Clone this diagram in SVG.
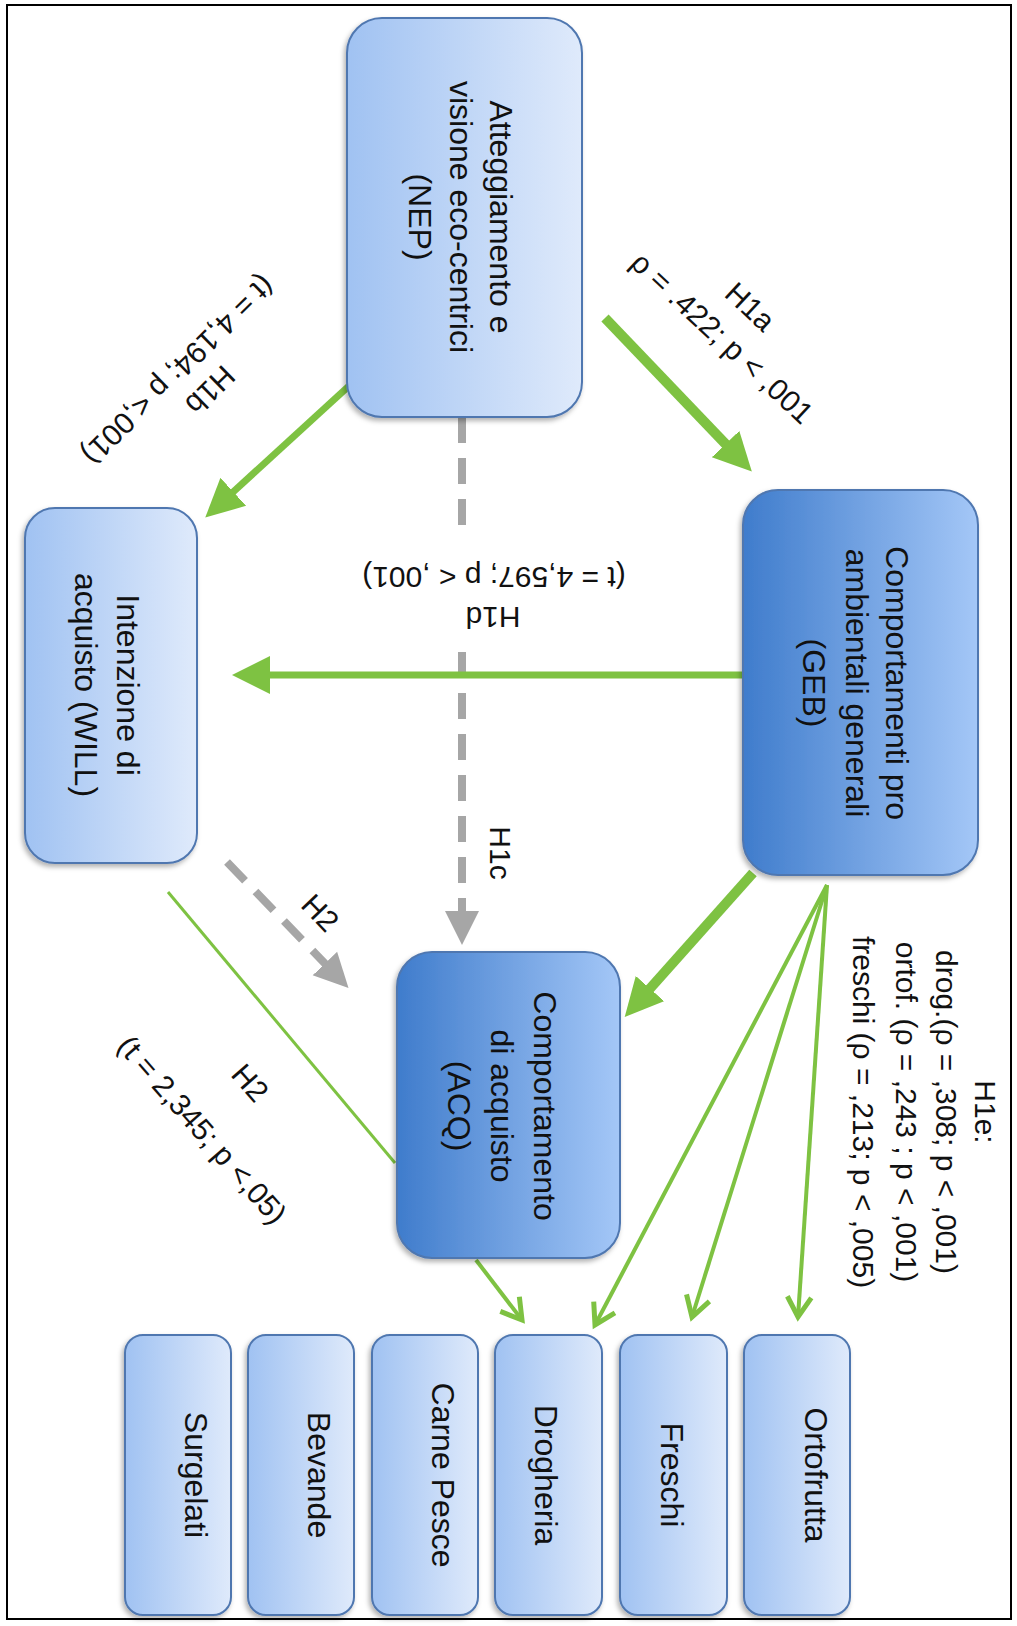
<svg xmlns="http://www.w3.org/2000/svg" width="1017" height="1626" viewBox="0 0 1017 1626">
<style>
.light{fill:url(#gLight);stroke:#4f77b0;stroke-width:2;filter:url(#sh)}
.dark{fill:url(#gDark);stroke:#4f77b0;stroke-width:2;filter:url(#sh)}
.n{font-family:"Liberation Sans",Arial,sans-serif;font-size:32px;fill:#111;text-anchor:middle}
.l{font-family:"Liberation Sans",Arial,sans-serif;font-size:30px;fill:#111;text-anchor:middle}
.gthick{stroke:#7ec242;fill:none;stroke-width:10}
.gmid{stroke:#7ec242;fill:none;stroke-width:7}
.gthin{stroke:#7ec242;fill:none;stroke-width:4}
.gline{stroke:#7ec242;fill:none;stroke-width:3}
.dash{stroke:#a6a6a6;fill:none;stroke-width:8;stroke-dasharray:26 15}
</style>
<defs>
<linearGradient id="gLight" x1="0" y1="0" x2="1" y2="0">
<stop offset="0" stop-color="#a0c2f2"/>
<stop offset="1" stop-color="#dfeafb"/>
</linearGradient>
<linearGradient id="gDark" x1="0" y1="0" x2="1" y2="0">
<stop offset="0" stop-color="#3f7ccc"/>
<stop offset="1" stop-color="#a4c7f7"/>
</linearGradient>
<filter id="sh" x="-10%" y="-10%" width="120%" height="120%">
<feDropShadow dx="-2" dy="3" stdDeviation="2.5" flood-color="#000" flood-opacity="0.3"/>
</filter>
<marker id="mBig" markerUnits="userSpaceOnUse" viewBox="0 0 40 40" markerWidth="40" markerHeight="40" refX="18" refY="20" orient="auto">
<path d="M0,1 L38,20 L0,39 z" fill="#7ec242"/>
</marker>
<marker id="mThin" markerUnits="userSpaceOnUse" viewBox="0 0 30 30" markerWidth="30" markerHeight="30" refX="24" refY="15" orient="auto">
<path d="M4,3 L24,15 L4,27" fill="none" stroke="#7ec242" stroke-width="5"/>
</marker>
<marker id="mGray" markerUnits="userSpaceOnUse" viewBox="0 0 36 36" markerWidth="36" markerHeight="36" refX="16" refY="18" orient="auto">
<path d="M0,1 L34,18 L0,35 z" fill="#a6a6a6"/>
</marker>
</defs>
<rect x="0" y="0" width="1017" height="1626" fill="#fff"/>
<rect x="7" y="5" width="1004" height="1614" fill="none" stroke="#000" stroke-width="2"/>

<g id="connectors">
<path class="dash" d="M462,417 L462,535"/>
<path class="dash" d="M462,652 L462,927" marker-end="url(#mGray)"/>
<path class="dash" d="M227,862 L336,975" marker-end="url(#mGray)"/>
<path class="gthick" d="M605,318 L738,457" marker-end="url(#mBig)"/>
<path class="gmid" d="M350,385 L220,504" marker-end="url(#mBig)"/>
<path class="gmid" d="M743,675 L252,675" marker-end="url(#mBig)"/>
<path class="gthick" d="M753,873 L638,1002" marker-end="url(#mBig)"/>
<path class="gthin" d="M827,885 L595,1325" marker-end="url(#mThin)"/>
<path class="gthin" d="M827,885 L692,1317" marker-end="url(#mThin)"/>
<path class="gthin" d="M827,885 L798,1317" marker-end="url(#mThin)"/>
<path class="gthin" d="M476,1260 L522,1320" marker-end="url(#mThin)"/>
<path class="gline" d="M168,892 L395,1163"/>
</g>

<g id="labels">
<text class="l" transform="translate(750,307) rotate(43)" y="10">H1a</text>
<text class="l" transform="translate(722,338) rotate(43)" y="10">ρ = .422; p &lt; ,001</text>
<text class="l" transform="translate(210,390) rotate(135.6)" y="10">H1b</text>
<text class="l" transform="translate(178,370) rotate(135.6)" y="10">(t = 4,194; p &lt;,001)</text>
<text class="l" transform="translate(493,617) rotate(180)" y="10">H1d</text>
<text class="l" transform="translate(494,577) rotate(180)" y="10">(t = 4,597; p &lt; ,001)</text>
<text class="l" transform="translate(500,853) rotate(90)" y="10">H1c</text>
<text class="l" transform="translate(320,913) rotate(46)" y="10">H2</text>
<text class="l" transform="translate(250,1083) rotate(48.8)" y="10">H2</text>
<text class="l" transform="translate(202,1130) rotate(48.8)" y="10">(t = 2,345; p &lt;,05)</text>
<text class="l" transform="translate(985,1112) rotate(90)" y="10">H1e:</text>
<text class="l" transform="translate(946,1112) rotate(90)" y="10">drog.(ρ = ,308;  p &lt; ,001)</text>
<text class="l" transform="translate(906,1112) rotate(90)" y="10">ortof. (ρ = ,243 ; p &lt; ,001)</text>
<text class="l" transform="translate(863,1112) rotate(90)" y="10">freschi (ρ = ,213; p &lt; ,005)</text>
</g>

<g id="nep">
<rect class="light" x="347" y="18" width="235" height="399" rx="35"/>
<text class="n" transform="translate(501,217) rotate(90)" y="11">Atteggiamento e</text>
<text class="n" transform="translate(461,217) rotate(90)" y="11">visione eco-centrici</text>
<text class="n" transform="translate(420,217) rotate(90)" y="11">(NEP)</text>
</g>
<g id="geb">
<rect class="dark" x="743" y="490" width="235" height="385" rx="35"/>
<text class="n" transform="translate(897,683) rotate(90)" y="11">Comportamenti pro</text>
<text class="n" transform="translate(857,683) rotate(90)" y="11">ambientali generali</text>
<text class="n" transform="translate(814,683) rotate(90)" y="11">(GEB)</text>
</g>
<g id="will">
<rect class="light" x="25" y="508" width="172" height="355" rx="30"/>
<text class="n" transform="translate(128,685) rotate(90)" y="11">Intenzione di</text>
<text class="n" transform="translate(86,685) rotate(90)" y="11">acquisto (WILL)</text>
</g>
<g id="acq">
<rect class="dark" x="397" y="952" width="223" height="306" rx="35"/>
<text class="n" transform="translate(545,1106) rotate(90)" y="11">Comportamento</text>
<text class="n" transform="translate(502,1106) rotate(90)" y="11">di acquisto</text>
<text class="n" transform="translate(459,1106) rotate(90)" y="11">(ACQ)</text>
</g>
<g id="surgelati">
<rect class="light" x="125" y="1335" width="106" height="280" rx="18"/>
<text class="n" transform="translate(196,1475) rotate(90)" y="11">Surgelati</text>
</g>
<g id="bevande">
<rect class="light" x="248" y="1335" width="106" height="280" rx="18"/>
<text class="n" transform="translate(319,1475) rotate(90)" y="11">Bevande</text>
</g>
<g id="carnepesce">
<rect class="light" x="372" y="1335" width="106" height="280" rx="18"/>
<text class="n" transform="translate(443,1475) rotate(90)" y="11">Carne Pesce</text>
</g>
<g id="drogheria">
<rect class="light" x="495" y="1335" width="107" height="280" rx="18"/>
<text class="n" transform="translate(546,1475) rotate(90)" y="11">Drogheria</text>
</g>
<g id="freschi">
<rect class="light" x="620" y="1335" width="107" height="280" rx="18"/>
<text class="n" transform="translate(672,1475) rotate(90)" y="11">Freschi</text>
</g>
<g id="ortofrutta">
<rect class="light" x="744" y="1335" width="106" height="280" rx="18"/>
<text class="n" transform="translate(816,1475) rotate(90)" y="11">Ortofrutta</text>
</g>
</svg>
